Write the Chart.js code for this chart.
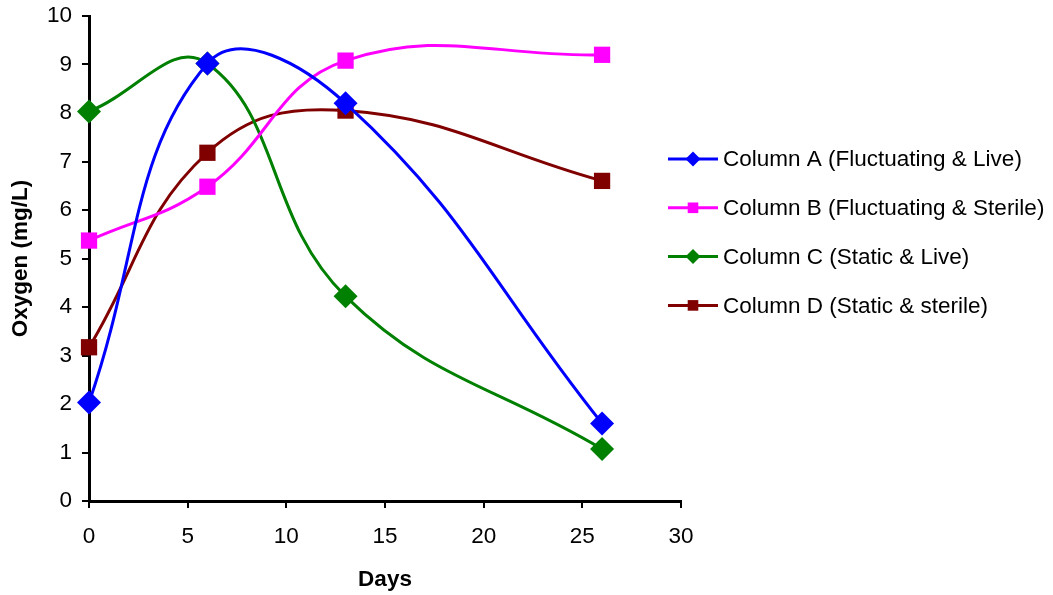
<!DOCTYPE html>
<html>
<head>
  <title>Oxygen by Column</title>
  <script src="https://cdn.jsdelivr.net/npm/chart.js"></script>
  <style>
    html, body { margin: 0; padding: 0; background: #fff; }
    #wrap { width: 1053px; height: 595px; }
  </style>
</head>
<body>
  <div id="wrap"><canvas id="oxyChart" width="1053" height="595"></canvas></div>

  <script>
    // sampling days
    const days = [0, 6, 13, 26];

    // dissolved oxygen (mg/L) per column
    const columnA = [2.03, 9.02, 8.2, 1.6];
    const columnB = [5.37, 6.48, 9.08, 9.2];
    const columnC = [8.03, 9.02, 4.22, 1.07];
    const columnD = [3.17, 7.18, 8.05, 6.6];

    const seriesNames = [
      'Column A (Fluctuating & Live)',
      'Column B (Fluctuating & Sterile)',
      'Column C (Static & Live)',
      'Column D (Static & sterile)'
    ];

    const xTicks = [0, 5, 10, 15, 20, 25, 30];
    const yTicks = [0, 1, 2, 3, 4, 5, 6, 7, 8, 9, 10];

    const FONT = "'Liberation Sans', Arial, sans-serif";
    const FSIZE = 22.5;

    function toPoints(vals) {
      return days.map((d, i) => ({ x: d, y: vals[i] }));
    }

    function makeSet(label, vals, color, shape, size) {
      return {
        label: label,
        data: toPoints(vals),
        borderColor: color,
        backgroundColor: color,
        borderWidth: 3,
        pointStyle: shape,
        pointRadius: size,
        pointBorderWidth: 0,
        tension: 0.42,
        clip: false
      };
    }

    // legend drawn on the right with a line segment + marker per series
    const sideLegend = {
      id: 'sideLegend',
      afterDraw(chart) {
        const ctx = chart.ctx;
        ctx.save();
        chart.data.datasets.forEach((ds, i) => {
          const y = 159 + i * 48.8;
          ctx.strokeStyle = ds.borderColor;
          ctx.lineWidth = 3;
          ctx.beginPath();
          ctx.moveTo(668, y);
          ctx.lineTo(718, y);
          ctx.stroke();
          ctx.fillStyle = ds.backgroundColor;
          Chart.helpers.drawPoint(ctx, {
            pointStyle: ds.pointStyle,
            radius: 7.5,
            borderWidth: 0
          }, 693, y);
          ctx.fillStyle = '#000';
          ctx.font = FSIZE + 'px ' + FONT;
          ctx.textBaseline = 'middle';
          ctx.fillText(seriesNames[i], 723, y + 1);
        });
        ctx.restore();
      }
    };

    new Chart(document.getElementById('oxyChart'), {
      type: 'line',
      data: {
        datasets: [
          makeSet(seriesNames[0], columnA, '#0000FF', 'rectRot', 12),
          makeSet(seriesNames[1], columnB, '#FF00FF', 'rect', 11.5),
          makeSet(seriesNames[2], columnC, '#008000', 'rectRot', 12),
          makeSet(seriesNames[3], columnD, '#800000', 'rect', 11.5)
        ]
      },
      options: {
        responsive: false,
        animation: false,
        layout: { padding: { left: 4, right: 372, top: 16, bottom: 2 } },
        plugins: {
          legend: { display: false },
          tooltip: { enabled: false }
        },
        scales: {
          x: {
            type: 'linear',
            min: 0,
            max: 30,
            afterBuildTicks: s => { s.ticks = xTicks.map(v => ({ value: v })); },
            ticks: { color: '#000', font: { family: FONT, size: FSIZE }, padding: 15 },
            grid: { drawOnChartArea: false, color: '#000', lineWidth: 2, tickLength: 7 },
            border: { color: '#000', width: 3 },
            title: {
              display: true,
              text: 'Days',
              color: '#000',
              font: { family: FONT, size: FSIZE, weight: 'bold' },
              padding: { top: 1, bottom: 0 }
            }
          },
          y: {
            min: 0,
            max: 10,
            afterBuildTicks: s => { s.ticks = yTicks.map(v => ({ value: v })); },
            // let the top label hang above the plot instead of pushing it down
            afterFit: s => { s.paddingTop = 0; s.paddingBottom = 0; },
            ticks: { color: '#000', font: { family: FONT, size: FSIZE }, padding: 10 },
            grid: { drawOnChartArea: false, color: '#000', lineWidth: 2, tickLength: 7 },
            border: { color: '#000', width: 3 },
            title: {
              display: true,
              text: 'Oxygen (mg/L)',
              color: '#000',
              font: { family: FONT, size: FSIZE, weight: 'bold' },
              padding: { top: 3, bottom: 3 }
            }
          }
        }
      },
      plugins: [sideLegend]
    });
  </script>
</body>
</html>
